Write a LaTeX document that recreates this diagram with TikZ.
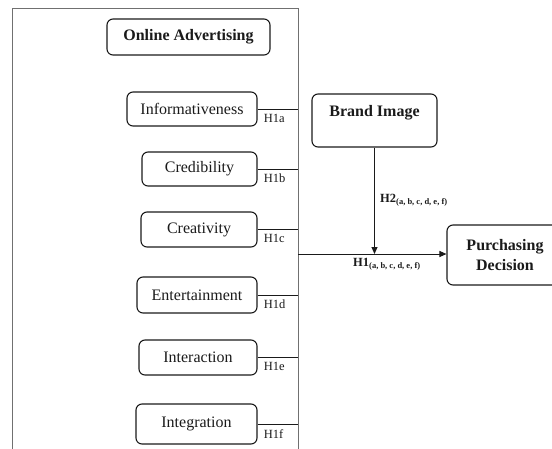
\documentclass[tikz,border=0pt]{standalone}
\usepackage{fontspec}
\setmainfont{Liberation Serif}
\usepackage{xcolor}
\usetikzlibrary{arrows.meta,positioning,calc}
\definecolor{ink}{HTML}{1A1A1A}
\definecolor{frame}{HTML}{707070}

\tikzset{
  factor/.style={draw=ink, line width=1.1pt, rounded corners=6pt, align=center,
    font=\color{ink}\fontsize{16}{18}\selectfont},
  hlabel/.style={font=\color{ink}\fontsize{12.5}{14}\selectfont, inner sep=0pt},
  hbold/.style={font=\color{ink}\bfseries\fontsize{12.5}{14}\selectfont, inner sep=0pt}
}

\begin{document}
\begin{tikzpicture}[x=1pt, y=-1pt, >= {Triangle[length=7pt, width=6pt]}]
  \clip (0,0) rectangle (552,448);
  \useasboundingbox (0,0) rectangle (552,448);
  \def\fr{298}

  % outer frame, cut by the page bottom
  \draw[frame, line width=1pt] (12,460) -- (12,8) -- (\fr,8) -- (\fr,460);

  \node[factor, font=\color{ink}\bfseries\fontsize{16}{18}\selectfont,
        minimum width=163pt, minimum height=36pt] (online) at (188.5,37) {Online Advertising};

  \node[factor, minimum width=130pt, minimum height=34pt] (info)  at (192,109)   {Informativeness};
  \node[factor, minimum width=115pt, minimum height=34pt] (cred)  at (199.5,169) {Credibility};
  \node[factor, minimum width=116pt, minimum height=35pt] (crea)  at (199,229.5) {Creativity};
  \node[factor, minimum width=120pt, minimum height=36pt] (ent)   at (197,295)   {Entertainment};
  \node[factor, minimum width=118pt, minimum height=35pt] (inter) at (198,357.5) {Interaction};
  \node[factor, minimum width=121pt, minimum height=40pt] (integ) at (196.5,424) {Integration};

  % links to the frame
  \foreach \n/\h in {info/H1a, cred/H1b, crea/H1c, ent/H1d, inter/H1e, integ/H1f} {
    \coordinate (\n-fr) at (\n.east -| \fr,0);
    \draw[ink, line width=0.6pt] (\n.east) -- (\n-fr);
    \node[hlabel, anchor=north west] (\n-h) at ($(\n.east)+(6,5)$) {\h};
  }

  \node[factor, font=\color{ink}\bfseries\fontsize{16}{18}\selectfont,
        minimum width=125pt, minimum height=53pt, text depth=19pt] (brand) at (374.5,120.5) {Brand Image};

  \node[factor, font=\color{ink}\bfseries\fontsize{16}{20}\selectfont,
        minimum width=116pt, minimum height=60pt] (purch) at (505,255) {Purchasing\\Decision};

  \coordinate (h1start) at (\fr,254);
  \coordinate (meet) at (brand.south |- h1start);
  \draw[ink, line width=1pt, ->] (h1start) -- (purch.west |- h1start);
  \draw[ink, line width=1pt, ->] (brand.south) -- (meet);

  \node[hbold, anchor=west] (h2lab) at (380,200)
    {H2\textsubscript{\fontsize{8.5}{9}\selectfont(a, b, c, d, e, f)}};
  \node[hbold, anchor=west] (h1lab) at (353,264)
    {H1\textsubscript{\fontsize{8.5}{9}\selectfont(a, b, c, d, e, f)}};
\end{tikzpicture}
\end{document}
